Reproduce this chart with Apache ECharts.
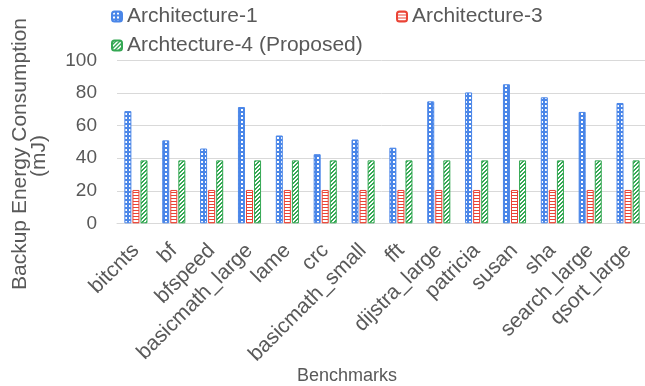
<!DOCTYPE html>
<html>
<head>
<meta charset="utf-8">
<script src="https://cdn.jsdelivr.net/npm/echarts@6/dist/echarts.min.js"></script>
<style>
  html, body { margin: 0; padding: 0; background: #fff; }
  #chart { width: 645px; height: 386px; }
</style>
</head>
<body>
<div id="chart"></div>
<script>
// Benchmarks on the x axis
const categories = ['bitcnts', 'bf', 'bfspeed', 'basicmath_large', 'lame', 'crc',
  'basicmath_small', 'fft', 'dijstra_large', 'patricia', 'susan', 'sha',
  'search_large', 'qsort_large'];

// Backup energy per benchmark (mJ)
const arch1 = [69, 51, 46, 71.5, 54, 42.5, 51.5, 46.5, 75, 80.5, 85.5, 77.5, 68.5, 74];
const arch3 = [20.5, 20.5, 20.5, 20.5, 20.5, 20.5, 20.5, 20.5, 20.5, 20.5, 20.5, 20.5, 20.5, 20.5];
const arch4 = [38.7, 38.7, 38.7, 38.7, 38.7, 38.7, 38.7, 38.7, 38.7, 38.7, 38.7, 38.7, 38.7, 38.7];

const seriesNames = ['Architecture-1', 'Architecture-3', 'Archtecture-4 (Proposed)'];
const yTicks = { min: 0, max: 100, interval: 20 };
const yTitle = ['Backup Energy Consumption', '(mJ)'];
const xTitle = 'Benchmarks';

const BLUE = '#4a86e8';
const RED = '#ea4335';
const GREEN = '#34a853';
const TEXT = '#595959';
const FONT = 'Liberation Sans, Arial, sans-serif';

// Small repeating tiles used as bar fills
function tile(w, h, draw) {
  const c = document.createElement('canvas');
  c.width = w; c.height = h;
  const ctx = c.getContext('2d');
  draw(ctx);
  return { image: c, repeat: 'repeat' };
}

// blue: white dots on a blue grid
const checker = tile(4, 4, ctx => {
  ctx.fillStyle = BLUE; ctx.fillRect(0, 0, 4, 4);
  ctx.fillStyle = '#ffffff'; ctx.fillRect(1, 1, 2, 2);
});
// red: thin horizontal lines
const hstripes = tile(3, 3, ctx => {
  ctx.fillStyle = '#ffffff'; ctx.fillRect(0, 0, 3, 3);
  ctx.fillStyle = RED; ctx.fillRect(0, 0, 3, 1);
});
// green: wide upward diagonals
const diag = tile(4, 4, ctx => {
  ctx.fillStyle = '#ffffff'; ctx.fillRect(0, 0, 4, 4);
  ctx.fillStyle = GREEN;
  for (let i = 0; i < 4; i++) {
    ctx.fillRect(i, 3 - i, 1, 1);
    ctx.fillRect((i + 1) % 4, 3 - i, 1, 1);
  }
});

const chart = echarts.init(document.getElementById('chart'), null, { renderer: 'canvas' });

const legendText = { fontFamily: FONT, fontSize: 21, color: TEXT };
const legendBase = { orient: 'horizontal', itemWidth: 10, itemHeight: 10, itemGap: 0, textStyle: legendText };

chart.setOption({
  backgroundColor: '#ffffff',
  animation: false,
  legend: [
    Object.assign({ data: [seriesNames[0]], left: 106, top: 1 }, legendBase),
    Object.assign({ data: [seriesNames[1]], left: 391, top: 1 }, legendBase),
    Object.assign({ data: [seriesNames[2]], left: 106, top: 30 }, legendBase)
  ],
  graphic: [
    { type: 'text', x: 20, y: 154, rotation: Math.PI / 2,
      style: { text: yTitle[0], font: '21px ' + FONT, fill: TEXT, align: 'center', verticalAlign: 'middle' } },
    { type: 'text', x: 39, y: 156, rotation: Math.PI / 2,
      style: { text: yTitle[1], font: '21px ' + FONT, fill: TEXT, align: 'center', verticalAlign: 'middle' } },
    { type: 'text', x: 347, y: 376,
      style: { text: xTitle, font: '18px ' + FONT, fill: TEXT, align: 'center', verticalAlign: 'middle' } }
  ],
  grid: { left: 117, top: 60.7, width: 530, height: 162.6, outerBoundsMode: 'none', containLabel: false },
  xAxis: {
    type: 'category',
    data: categories,
    axisTick: { show: false },
    axisLine: { lineStyle: { color: '#d9d9d9', width: 1 } },
    axisLabel: { rotate: 45, interval: 0, margin: 24, fontFamily: FONT, fontSize: 21, color: TEXT }
  },
  yAxis: {
    type: 'value',
    min: yTicks.min, max: yTicks.max, interval: yTicks.interval,
    axisLine: { show: false },
    axisTick: { show: false },
    axisLabel: { margin: 20, fontFamily: FONT, fontSize: 19, color: TEXT },
    splitLine: { lineStyle: { color: '#d9d9d9', width: 1 } }
  },
  series: [
    { name: seriesNames[0], type: 'bar', data: arch1, barWidth: 7, barGap: '15%',
      itemStyle: { color: checker, borderColor: BLUE, borderWidth: 1 } },
    { name: seriesNames[1], type: 'bar', data: arch3, barWidth: 7, barGap: '15%',
      itemStyle: { color: hstripes, borderColor: RED, borderWidth: 1 } },
    { name: seriesNames[2], type: 'bar', data: arch4, barWidth: 7, barGap: '15%',
      itemStyle: { color: diag, borderColor: GREEN, borderWidth: 1 } }
  ]
});
</script>
</body>
</html>
